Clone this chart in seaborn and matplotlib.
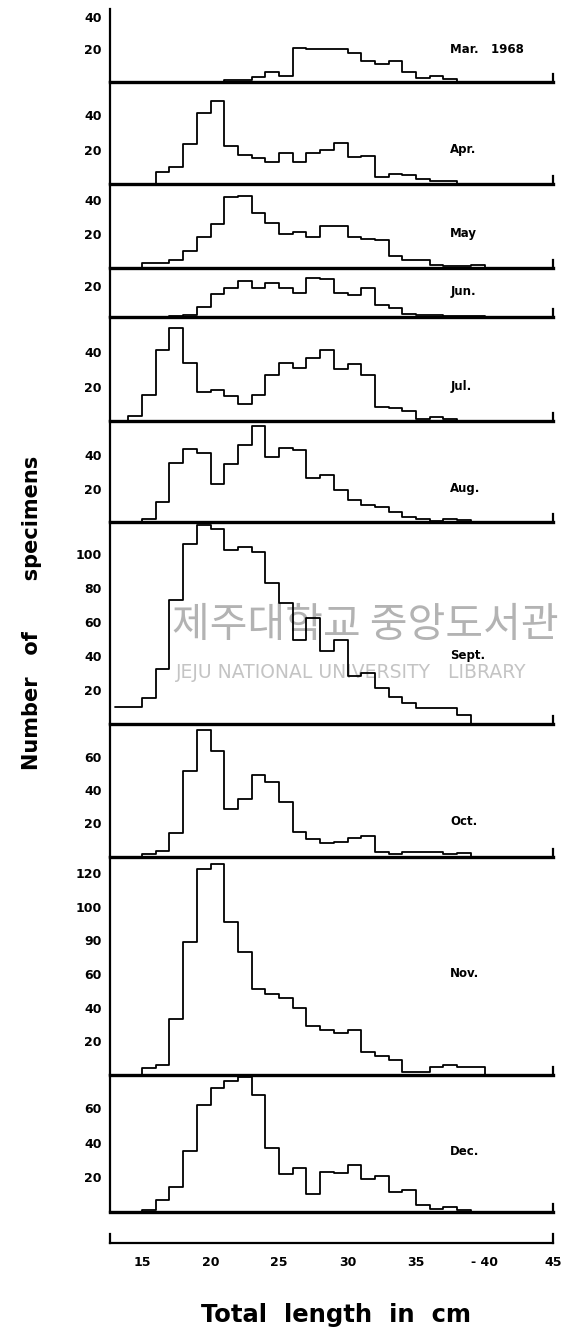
import numpy as np
import pandas as pd
import seaborn as sns
import matplotlib
matplotlib.use("Agg")
import matplotlib.pyplot as plt

# ---------------- data ----------------
length_cm = list(range(13, 41))  # left edge of each 1-cm class

mar = [0, 0, 0, 0, 0, 0, 0, 0, 1, 1, 3, 6, 3.5, 21, 20, 20, 20, 18, 13, 11, 13, 6, 2, 3.5, 1.5, 0, 0, 0]
apr = [0, 0, 0, 7, 10, 23, 41, 48, 22, 17, 15, 13, 18, 13, 18, 20, 24, 15.5, 16, 4, 6, 5, 3, 1.5, 1.5, 0, 0, 0]
may = [0, 0, 3, 3, 4.5, 10, 18, 26, 41.5, 42.5, 32.5, 26.5, 20, 21, 18.5, 25, 24.5, 18, 17, 16.5, 7, 4.5, 5, 1.5, 1, 1, 2, 0]
jun = [0, 0, 0, 0, 0.5, 1, 6, 15, 19, 23.5, 19, 22, 18.5, 15.5, 25.5, 24.5, 15.5, 14, 19, 7.5, 5.5, 1.7, 1, 1, 0.7, 0.7, 0.7, 0]
jul = [0, 3, 15, 41, 54, 34, 17, 18, 14.5, 10, 15, 27, 33.5, 31, 36.5, 41.5, 30, 33, 27, 8, 7.5, 6, 1.2, 2.5, 1.2, 0, 0, 0]
aug = [0, 0, 2, 12, 35, 43.5, 41.5, 23, 34.5, 46, 57.5, 39, 44.5, 43, 26.5, 28, 19, 13.5, 10.5, 9, 6, 3, 2, 1, 1.8, 1.4, 0, 0]
sep = [10, 10, 15, 32, 73, 106, 117, 114.5, 102, 104, 101, 83, 71, 49, 62, 43, 49, 28, 30, 21, 16, 12, 9, 9, 9, 5, 0, 0]
oct_ = [0, 0, 1.5, 3.5, 14, 51.5, 76, 63, 28.5, 34.5, 49, 45, 33, 15, 10.5, 8, 9, 11, 12.5, 3, 1.5, 3, 3, 3, 1.5, 2, 0, 0]
nov = [0, 0, 4, 6, 33, 79, 122, 125.5, 91, 73, 51, 48, 45.5, 39.5, 29, 27, 25, 27, 13.5, 11, 9, 1.5, 1.5, 4.5, 6, 4.5, 4.5, 0]
dec = [0, 0, 1, 6.5, 14, 35, 62, 72, 76, 78, 68, 37, 22, 25.5, 10, 23, 22.5, 27, 19, 20.5, 11.5, 12.5, 3.5, 1.5, 2.5, 1, 0, 0]

months = ["Mar.   1968", "Apr.", "May", "Jun.", "Jul.", "Aug.", "Sept.", "Oct.", "Nov.", "Dec."]
series = [mar, apr, may, jun, jul, aug, sep, oct_, nov, dec]

ytick_vals = [[20, 40], [20, 40], [20, 40], [20], [20, 40], [20, 40],
              [20, 40, 60, 80, 100], [20, 40, 60], [20, 40, 60, 80, 100, 120], [20, 40, 60]]
ytick_text = [["20", "40"], ["20", "40"], ["20", "40"], ["20"], ["20", "40"], ["20", "40"],
              ["20", "40", "60", "80", "100"], ["20", "40", "60"],
              ["20", "40", "60", "90", "100", "120"], ["20", "40", "60"]]
xtick_vals = [15, 20, 25, 30, 35, 40, 45]
xtick_text = ["15", "20", "25", "30", "35", "- 40", "45"]

# ---------------- layout ----------------
W, H = 564, 1334
sns.set_style("white")
plt.rcParams["font.family"] = ["DejaVu Sans"]
plt.rcParams["text.color"] = "black"
plt.rcParams["xtick.color"] = "black"
plt.rcParams["ytick.color"] = "black"
plt.rcParams["axes.labelcolor"] = "black"

fig = plt.figure(figsize=(W / 100, H / 100), dpi=100)

AX_L, AX_R = 110, 553
PX_PER_CM = 13.7
XR = 45.0
XL = XR - (AX_R - AX_L) / PX_PER_CM

# panel (top_px, bottom_px, px_per_unit)
panels = [(9, 81.7, 1.62), (81.7, 184, 1.72), (184, 268, 1.70), (268, 316.7, 1.535),
          (316.7, 421, 1.72), (421, 522.3, 1.68), (522.3, 723.7, 1.70),
          (723.7, 856.7, 1.67), (856.7, 1075, 1.685), (1075, 1211.5, 1.72)]
label_y = [20, 20, 20.5, 16.5, 20, 20.3, 40, 21, 60.5, 35]

edges = [float(v) for v in length_cm + [length_cm[-1] + 1]]
centers = [v + 0.5 for v in length_cm]

# library watermark (behind the panels)
fig.text(172 / W, 1 - 625 / H, "제주대학교 중앙도서관", fontsize=29.5,
         family=["Noto Sans CJK KR", "DejaVu Sans"], color="#b3b3b3",
         ha="left", va="center", zorder=-1)
fig.text(176 / W, 1 - 673 / H, "JEJU NATIONAL UNIVERSITY   LIBRARY", fontsize=13.5,
         color="#c4c4c4", ha="left", va="center", zorder=-1)

for i, (top, bot, ppu) in enumerate(panels):
    ax = fig.add_axes([AX_L / W, 1 - bot / H, (AX_R - AX_L) / W, (bot - top) / H])
    ax.patch.set_visible(False)
    df = pd.DataFrame({"length": centers, "count": series[i]})
    sns.histplot(data=df, x="length", weights="count", bins=edges, element="step",
                 fill=False, color="black", linewidth=1.3, ax=ax)
    ytop = (bot - top) / ppu
    ax.set_xlim(XL, XR)
    ax.set_ylim(0, ytop)
    ax.set_xlabel("")
    ax.set_ylabel("")
    ax.set_xticks([])
    ax.set_yticks(ytick_vals[i])
    ax.set_yticklabels(ytick_text[i])
    ax.tick_params(axis="y", direction="in", length=7, width=1.6, pad=6,
                   labelsize=9, colors="black")
    for lab in ax.get_yticklabels():
        lab.set_fontweight("bold")
    ax.spines["top"].set_visible(False)
    for s, lw in [("left", 1.6), ("bottom", 2.4), ("right", 1.6)]:
        ax.spines[s].set_linewidth(lw)
        ax.spines[s].set_color("black")
    ax.spines["right"].set_bounds(0, 8 / ppu)
    ax.text(37.5, label_y[i], months[i], fontsize=8.5, fontweight="bold",
            ha="left", va="center", color="black")

# bottom scale axis
SCALE_Y = 1243
axs = fig.add_axes([AX_L / W, 1 - SCALE_Y / H, (AX_R - AX_L) / W, 9 / H])
axs.patch.set_visible(False)
axs.set_xlim(XL, XR)
axs.set_ylim(0, 1)
axs.set_xticks(xtick_vals)
axs.set_xticklabels(xtick_text)
axs.tick_params(axis="x", direction="in", length=5, width=1.2, pad=9, labelsize=9,
                colors="black")
for lab in axs.get_xticklabels():
    lab.set_fontweight("bold")
axs.set_yticks([])
axs.spines["top"].set_visible(False)
for s in ["bottom", "left", "right"]:
    axs.spines[s].set_linewidth(1.6)
    axs.spines[s].set_color("black")
axs.spines["left"].set_bounds(0, 1)
axs.spines["right"].set_bounds(0, 1)

# axis titles
fig.text(32 / W, 1 - 613 / H, "Number   of       specimens", rotation=90,
         ha="center", va="center", fontsize=15, fontweight="bold", color="black")
fig.text(336 / W, 1 - 1315 / H, "Total  length  in  cm",
         ha="center", va="center", fontsize=17.5, fontweight="bold", color="black")

fig.savefig("out.png", dpi=100)
